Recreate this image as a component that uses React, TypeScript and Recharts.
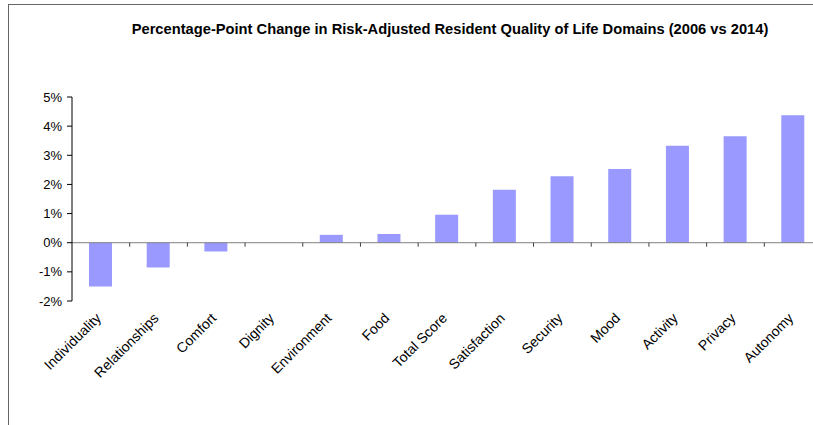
import React from "react";
import { BarChart, Bar, XAxis, YAxis, ReferenceLine } from "recharts";

const domains = [
  "Individuality",
  "Relationships",
  "Comfort",
  "Dignity",
  "Environment",
  "Food",
  "Total Score",
  "Satisfaction",
  "Security",
  "Mood",
  "Activity",
  "Privacy",
  "Autonomy",
];
const changes = [
  -0.015, -0.0085, -0.003, 0, 0.0027, 0.003, 0.0096, 0.0182, 0.0228, 0.0253,
  0.0333, 0.0365, 0.0437,
];
const yTicks = [-0.02, -0.01, 0, 0.01, 0.02, 0.03, 0.04, 0.05];
const title =
  "Percentage-Point Change in Risk-Adjusted Resident Quality of Life Domains (2006 vs 2014)";

const data = domains.map((d, i) => ({ domain: d, change: changes[i] }));

const FONT = '"Liberation Sans", Arial, sans-serif';

const CategoryTick = (props: any) => {
  const { x, y, payload } = props;
  const ax = x + 1;
  const ay = y + 18;
  return (
    <text
      x={ax}
      y={ay}
      transform={`rotate(-45 ${ax} ${ay})`}
      textAnchor="end"
      fontSize={14}
      fontFamily={FONT}
      fill="#000"
    >
      {payload.value}
    </text>
  );
};

// zero line with the category boundary tick marks hanging below it
const ZeroAxis = (props: any) => {
  const { x1, x2, y1 } = props;
  const n = data.length;
  const step = (x2 - x1) / n;
  const marks = [];
  for (let i = 1; i <= n; i++) {
    const x = x1 + step * i;
    marks.push(<line key={i} x1={x} x2={x} y1={y1} y2={y1 + 4} stroke="#404040" />);
  }
  return (
    <g>
      <line x1={x1} x2={x2} y1={y1} y2={y1} stroke="#808080" strokeWidth={1} />
      {marks}
    </g>
  );
};

const App: React.FC = () => {
  return (
    <div
      style={{
        position: "absolute",
        left: 0,
        top: 0,
        width: 813,
        height: 425,
        overflow: "hidden",
        background: "#fff",
        fontFamily: FONT,
      }}
    >
      <div
        style={{
          position: "absolute",
          left: 8,
          top: 4,
          width: 900,
          height: 500,
          border: "1px solid #666",
        }}
      />
      <div
        style={{
          position: "absolute",
          left: 0,
          top: 22,
          width: 900,
          textAlign: "center",
          fontSize: 14.7,
          lineHeight: "15px",
          fontWeight: "bold",
          color: "#000",
          whiteSpace: "nowrap",
        }}
      >
        {title}
      </div>
      <div style={{ position: "absolute", left: 0, top: 0 }}>
        <BarChart
          width={840}
          height={425}
          data={data}
          margin={{ top: 97, right: 18, bottom: 0, left: 0 }}
        >
          <XAxis
            dataKey="domain"
            axisLine={false}
            tickLine={false}
            tickSize={0}
            tickMargin={0}
            interval={0}
            height={124}
            tick={<CategoryTick />}
          />
          <YAxis
            width={72}
            domain={[-0.02, 0.05]}
            ticks={yTicks}
            interval={0}
            tickSize={5}
            tickMargin={5}
            axisLine={{ stroke: "#000" }}
            tickLine={{ stroke: "#000" }}
            tick={{ fill: "#000", fontSize: 13, fontFamily: FONT }}
            tickFormatter={(v: number) => `${Math.round(v * 100)}%`}
          />
          <Bar dataKey="change" fill="#9999FF" barSize={23} isAnimationActive={false} />
          <ReferenceLine y={0} shape={<ZeroAxis />} />
        </BarChart>
      </div>
    </div>
  );
};

export default App;
